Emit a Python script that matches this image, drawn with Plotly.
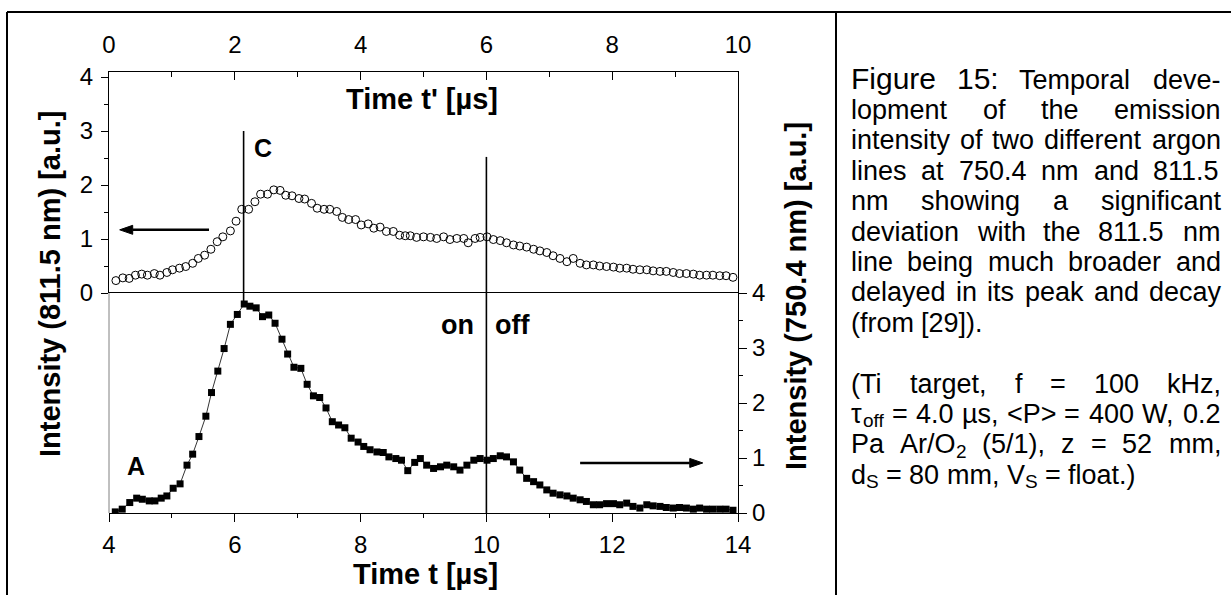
import re
import plotly.graph_objects as go

# ---------------- data ----------------
# lower panel: 750.4 nm line (filled squares), bottom axis Time t [µs], right axis
t_750 = [4.10, 4.21, 4.33, 4.44, 4.53, 4.64, 4.73, 4.83, 4.92, 5.02,
         5.13, 5.24, 5.33, 5.43, 5.54, 5.63, 5.73, 5.83, 5.93, 6.04,
         6.15, 6.24, 6.34, 6.44, 6.54, 6.64, 6.75, 6.84, 6.94, 7.05,
         7.15, 7.25, 7.35, 7.45, 7.55, 7.65, 7.75, 7.85, 7.96, 8.05,
         8.15, 8.26, 8.36, 8.45, 8.56, 8.65, 8.75, 8.86, 8.95, 9.05,
         9.16, 9.27, 9.37, 9.48, 9.58, 9.69, 9.80, 9.90, 10.01, 10.11,
         10.22, 10.32, 10.43, 10.53, 10.64, 10.75, 10.85, 10.96, 11.06, 11.17,
         11.28, 11.38, 11.49, 11.59, 11.70, 11.80, 11.91, 12.02, 12.12, 12.23,
         12.33, 12.44, 12.55, 12.65, 12.76, 12.86, 12.97, 13.07, 13.18, 13.29,
         13.39, 13.50, 13.60, 13.71, 13.81, 13.92]
i_750 = [0.02, 0.07, 0.19, 0.27, 0.25, 0.22, 0.22, 0.27, 0.31, 0.45,
         0.53, 0.87, 1.07, 1.39, 1.76, 2.19, 2.58, 2.99, 3.43, 3.61,
         3.80, 3.76, 3.73, 3.57, 3.60, 3.45, 3.16, 2.89, 2.65, 2.63,
         2.34, 2.13, 2.10, 1.91, 1.66, 1.60, 1.55, 1.36, 1.29, 1.21,
         1.15, 1.11, 1.10, 1.02, 0.99, 0.96, 0.77, 0.92, 0.99, 0.87,
         0.81, 0.84, 0.87, 0.84, 0.78, 0.87, 0.96, 0.99, 0.96, 0.99,
         1.04, 1.02, 0.93, 0.78, 0.63, 0.57, 0.51, 0.42, 0.36, 0.33,
         0.31, 0.27, 0.24, 0.21, 0.15, 0.15, 0.17, 0.17, 0.15, 0.18,
         0.12, 0.09, 0.15, 0.13, 0.12, 0.10, 0.09, 0.10, 0.09, 0.07,
         0.09, 0.07, 0.07, 0.07, 0.07, 0.05]

# upper panel: 811.5 nm line (open circles), top axis Time t' [µs], left axis
tp_811 = [0.11, 0.22, 0.32, 0.42, 0.52, 0.61, 0.72, 0.81, 0.92, 1.01,
          1.12, 1.22, 1.33, 1.42, 1.52, 1.62, 1.72, 1.81, 1.93, 2.02,
          2.11, 2.22, 2.32, 2.41, 2.52, 2.62, 2.72, 2.81, 2.91, 3.02,
          3.11, 3.22, 3.31, 3.42, 3.51, 3.62, 3.71, 3.81, 3.92, 4.01,
          4.12, 4.21, 4.31, 4.41, 4.52, 4.62, 4.71, 4.79, 4.89, 5.00,
          5.11, 5.21, 5.32, 5.42, 5.53, 5.64, 5.71, 5.82, 5.90, 6.01,
          6.11, 6.22, 6.32, 6.43, 6.53, 6.64, 6.75, 6.85, 6.96, 7.06,
          7.17, 7.28, 7.38, 7.49, 7.59, 7.70, 7.80, 7.91, 8.02, 8.12,
          8.23, 8.33, 8.44, 8.55, 8.65, 8.76, 8.86, 8.97, 9.07, 9.18,
          9.29, 9.39, 9.50, 9.60, 9.71, 9.81, 9.92]
i_811 = [0.23, 0.28, 0.27, 0.33, 0.35, 0.33, 0.36, 0.33, 0.38, 0.43,
         0.46, 0.49, 0.55, 0.64, 0.70, 0.81, 0.95, 1.04, 1.15, 1.33,
         1.55, 1.55, 1.69, 1.83, 1.83, 1.91, 1.90, 1.81, 1.80, 1.75,
         1.74, 1.66, 1.57, 1.55, 1.55, 1.51, 1.40, 1.36, 1.36, 1.26,
         1.28, 1.20, 1.22, 1.14, 1.14, 1.07, 1.06, 1.06, 1.03, 1.04,
         1.03, 1.01, 1.04, 0.99, 1.01, 1.01, 0.93, 1.01, 1.03, 1.04,
         0.99, 0.97, 0.93, 0.89, 0.87, 0.85, 0.81, 0.78, 0.75, 0.69,
         0.64, 0.58, 0.64, 0.55, 0.52, 0.52, 0.50, 0.49, 0.48, 0.46,
         0.46, 0.44, 0.43, 0.43, 0.41, 0.40, 0.40, 0.38, 0.36, 0.36,
         0.35, 0.33, 0.33, 0.33, 0.32, 0.32, 0.29]

bottom_ticks = [4, 6, 8, 10, 12, 14]
top_ticks = [0, 2, 4, 6, 8, 10]
y_ticks = [0, 1, 2, 3, 4]

caption_lines = [
    ["Figure", "15:", "Temporal", "deve-"],
    ["lopment", "of", "the", "emission"],
    ["intensity", "of", "two", "different", "argon"],
    ["lines", "at", "750.4", "nm", "and", "811.5"],
    ["nm", "showing", "a", "significant"],
    ["deviation", "with", "the", "811.5", "nm"],
    ["line", "being", "much", "broader", "and"],
    ["delayed", "in", "its", "peak", "and", "decay"],
    ["(from", "[29])."],
    [],
    ["(Ti", "target,", "f", "=", "100", "kHz,"],
    ["τ<sub>off</sub>", "=", "4.0", "µs,", "&lt;P&gt;", "=", "400", "W,", "0.2"],
    ["Pa", "Ar/O<sub>2</sub>", "(5/1),", "z", "=", "52", "mm,"],
    ["d<sub>S</sub>", "=", "80", "mm,", "V<sub>S</sub>", "=", "float.)"],
]
justified = [True, True, True, True, True, True, True, True, False, False,
             True, True, True, False]

# ---------------- layout geometry ----------------
W, H = 1231, 595
L, R, T, B = 109, 738, 72, 513
MID = 293
FONT = "Liberation Sans, Arial, sans-serif"

def px(x):
    return (x - L) / (R - L)

def py(y):
    return (B - y) / (B - T)

split = py(MID)
XS = (R - L) / 10.0            # pixels per x unit
YS_LOW = (B - MID) / 4.0        # pixels per unit, lower panel
YS_UP = 54.0                    # pixels per unit, upper panel

AW = {' ': 278, '(': 333, ')': 333, ',': 278, '-': 333, '.': 278, '/': 278,
      ':': 278, '<': 584, '=': 584, '>': 584, '[': 278, ']': 278,
      'A': 667, 'F': 611, 'H': 722, 'O': 778, 'P': 667, 'S': 667, 'T': 611,
      'V': 667, 'W': 944, 'µ': 556, 'τ': 430}
for c in '0123456789':
    AW[c] = 556
for c, w in zip('abcdefghijklmnopqrstuvwxyz',
                [556, 556, 500, 556, 556, 278, 556, 556, 222, 222, 500, 222, 833,
                 556, 556, 556, 556, 333, 500, 278, 556, 500, 722, 500, 500, 500]):
    AW[c] = w

SUB_SCALE = 0.7

def segments(word):
    """split a word into (text, is_sub) pieces"""
    out = []
    for part in re.split(r"(<sub>.*?</sub>)", word):
        if not part:
            continue
        if part.startswith("<sub>"):
            out.append((part[5:-6], True))
        else:
            out.append((part, False))
    return out

def seg_width(text, size):
    s = text.replace("&lt;", "<").replace("&gt;", ">")
    return sum(AW.get(ch, 556) for ch in s) / 1000.0 * size

def word_width(word, size):
    return sum(seg_width(t, size * (SUB_SCALE if sub else 1.0))
               for t, sub in segments(word))

fig = go.Figure()

fig.add_trace(go.Scatter(
    x=t_750, y=i_750, xaxis="x", yaxis="y", mode="lines+markers",
    line=dict(color="black", width=0.8),
    marker=dict(symbol="square", size=7, color="black"),
    showlegend=False, hoverinfo="skip"))

fig.add_trace(go.Scatter(
    x=tp_811, y=i_811, xaxis="x2", yaxis="y2", mode="markers",
    marker=dict(symbol="circle-open", size=8, color="black", line=dict(width=1)),
    showlegend=False, hoverinfo="skip"))

axis_common = dict(showgrid=False, zeroline=False, showline=True, linecolor="black",
                   linewidth=1.3, tickcolor="black", tickwidth=1.3,
                   tickfont=dict(family=FONT, size=24, color="black"))

fig.update_layout(
    width=W, height=H,
    margin=dict(l=L, r=W - R, t=T, b=H - B, pad=0),
    paper_bgcolor="white", plot_bgcolor="white",
    font=dict(family=FONT, color="black"),
    xaxis=dict(anchor="y", domain=[0, 1], range=[4, 14], tickvals=bottom_ticks,
               ticks="outside", ticklen=8, mirror=True, ticklabelstandoff=2,
               minor=dict(tickvals=[5, 7, 9, 11, 13], ticks="outside", ticklen=4,
                          tickcolor="black", tickwidth=1.3),
               **axis_common),
    yaxis=dict(anchor="x", domain=[0, split], range=[0, 4], side="right",
               tickvals=y_ticks, ticks="outside", ticklen=8,
               minor=dict(tickvals=[0.5, 1.5, 2.5, 3.5], ticks="outside", ticklen=4,
                          tickcolor="black", tickwidth=1.3),
               **axis_common),
    xaxis2=dict(anchor="y2", domain=[0, 1], range=[0, 10], side="top",
                tickvals=top_ticks, ticks="inside", ticklen=8, ticklabelstandoff=8,
                minor=dict(tickvals=[1, 3, 5, 7, 9], ticks="inside", ticklen=5,
                           tickcolor="black", tickwidth=1.3),
                **axis_common),
    yaxis2=dict(anchor="x2", domain=[split, 1], range=[0, 4 + 5 / 54], side="left",
                tickvals=y_ticks, ticks="outside", ticklen=7, mirror=True,
                ticklabelstandoff=3,
                minor=dict(tickvals=[0.5, 1.5, 2.5, 3.5], ticks="outside", ticklen=4,
                           tickcolor="black", tickwidth=1.3),
                **axis_common),
)

shapes = []
# vertical marker lines
shapes.append(dict(type="line", xref="x", yref="y2", x0=6.14, x1=6.14, y0=0, y1=3.0,
                   line=dict(color="black", width=1.6)))
shapes.append(dict(type="line", xref="x", yref="y", x0=6.14, x1=6.14, y0=3.82, y1=4,
                   line=dict(color="black", width=1.6)))
shapes.append(dict(type="line", xref="x", yref="y2", x0=10, x1=10, y0=0, y1=2.52,
                   line=dict(color="black", width=1.6)))
shapes.append(dict(type="line", xref="x", yref="y", x0=10, x1=10, y0=0, y1=4,
                   line=dict(color="black", width=1.6)))
# grey left line of lower panel
shapes.append(dict(type="line", xref="paper", yref="paper", x0=0, x1=0, y0=0, y1=split,
                   line=dict(color="#808080", width=1)))
# outer frame
shapes.append(dict(type="line", xref="paper", yref="paper", x0=px(7), x1=px(1231),
                   y0=py(12), y1=py(12), line=dict(color="black", width=2)))
shapes.append(dict(type="line", xref="paper", yref="paper", x0=px(7), x1=px(7),
                   y0=py(12), y1=py(596), line=dict(color="black", width=2)))
shapes.append(dict(type="line", xref="paper", yref="paper", x0=px(836), x1=px(836),
                   y0=py(12), y1=py(596), line=dict(color="black", width=2)))

# arrows (line + filled head)
HEAD_L, HEAD_W = 13.0, 4.5

def arrow(xref, yref, x_tail, x_head, y, ys):
    d = 1 if x_head > x_tail else -1
    base = x_head - d * HEAD_L / XS
    hw = HEAD_W / ys
    out = [dict(type="line", xref=xref, yref=yref, x0=x_tail, x1=base, y0=y, y1=y,
                line=dict(color="black", width=2.6))]
    out.append(dict(type="path", xref=xref, yref=yref,
                    path=f"M {x_head},{y} L {base},{y + hw} L {base},{y - hw} Z",
                    fillcolor="black", line=dict(color="black", width=1)))
    return out

shapes += arrow("x2", "y2", 1.59, 0.17, 1.17, YS_UP)
shapes += arrow("x", "y", 11.49, 13.44, 0.91, YS_LOW)
fig.update_layout(shapes=shapes)

ann = []
# labels in plot
lab_font = dict(family=FONT, size=25, color="black")
ann.append(dict(x=2.45, y=2.69, xref="x2", yref="y2", text="<b>C</b>", showarrow=False,
                font=lab_font, xanchor="center", yanchor="middle"))
ann.append(dict(x=4.43, y=0.85, xref="x", yref="y", text="<b>A</b>", showarrow=False,
                font=lab_font, xanchor="center", yanchor="middle"))
onoff_font = dict(family=FONT, size=27, color="black")
ann.append(dict(x=9.84, y=3.42, xref="x", yref="y", text="<b>on</b>", showarrow=False,
                font=onoff_font, xanchor="right", yanchor="middle"))
ann.append(dict(x=10.1, y=3.42, xref="x", yref="y", text="<b>off</b>", showarrow=False,
                font=onoff_font, xanchor="left", yanchor="middle"))
# axis titles
title_font = dict(family=FONT, size=29, color="black")
ann.append(dict(x=px(422), y=py(99), xref="paper", yref="paper", text="<b>Time t' [µs]</b>",
                showarrow=False, font=title_font, xanchor="center", yanchor="middle"))
ann.append(dict(x=px(426), y=py(574), xref="paper", yref="paper", text="<b>Time t [µs]</b>",
                showarrow=False, font=title_font, xanchor="center", yanchor="middle"))
ann.append(dict(x=px(50), y=py(284), xref="paper", yref="paper",
                text="<b>Intensity (811.5 nm) [a.u.]</b>", textangle=-90,
                showarrow=False, font=title_font, xanchor="center", yanchor="middle"))
ann.append(dict(x=px(796), y=py(296), xref="paper", yref="paper",
                text="<b>Intensity (750.4 nm) [a.u.]</b>", textangle=-90,
                showarrow=False, font=title_font, xanchor="center", yanchor="middle"))

# caption, justified word by word (subscripts drawn as smaller, lowered pieces)
CAP_L, CAP_R = 850, 1220
BASE0, LSTEP = 88, 30.4
BODY, BIG = 27, 30
SUB_DROP = 4
for k, (words, just) in enumerate(zip(caption_lines, justified)):
    if not words:
        continue
    sizes = [BODY] * len(words)
    if k == 0:
        sizes[0] = BIG
        sizes[1] = BIG
    widths = [word_width(w, s) for w, s in zip(words, sizes)]
    if just and len(words) > 1:
        gap = (CAP_R - CAP_L - sum(widths)) / (len(words) - 1)
    else:
        gap = 0.278 * BODY
    base = BASE0 + LSTEP * k
    xcur = CAP_L
    for w, s, wd in zip(words, sizes, widths):
        xs = xcur
        for text, sub in segments(w):
            fs = round(s * SUB_SCALE) if sub else s
            b = base + (SUB_DROP if sub else 0)
            top = b - 0.905 * fs - 1
            ann.append(dict(x=px(xs - 1), y=py(top), xref="paper", yref="paper", text=text,
                            showarrow=False, xanchor="left", yanchor="top",
                            font=dict(family=FONT, size=fs, color="black")))
            xs += seg_width(text, fs)
        xcur += wd + gap

fig.update_layout(annotations=ann)

fig.write_html("out.html")
